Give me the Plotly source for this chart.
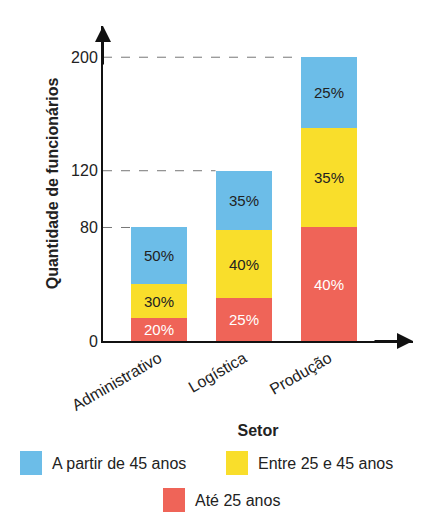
import plotly.graph_objects as go

setores = ["Administrativo", "Logística", "Produção"]
totais = [80, 120, 200]
ate25 = [20, 25, 40]
entre25_45 = [30, 40, 35]
partir45 = [50, 35, 25]

series = [
    ("Até 25 anos", ate25, "#ef6458", "white"),
    ("Entre 25 e 45 anos", entre25_45, "#f9de2b", "#222"),
    ("A partir de 45 anos", partir45, "#6cbde8", "#222"),
]

x = list(range(len(setores)))
W = 0.67
X0 = -0.659
fig = go.Figure()
for name, pcts, cor, tcor in series:
    vals = [t * p / 100 for t, p in zip(totais, pcts)]
    fig.add_trace(go.Bar(x=x, y=vals, width=W, marker=dict(color=cor, line_width=0),
                         text=[f"{p}%" for p in pcts], textposition="inside",
                         insidetextanchor="middle", textfont=dict(size=15, color=tcor),
                         name=name, showlegend=False))

for i, t in enumerate(totais):
    fig.add_shape(type="line", xref="x", yref="y", x0=X0, x1=i - W / 2, y0=t, y1=t,
                  line=dict(color="#777", width=1, dash="dash"))

# axis arrows
fig.add_annotation(xref="paper", yref="paper", x=0, y=1.0, ax=0, ay=40,
                   showarrow=True, arrowhead=2, arrowsize=1.6, arrowwidth=2, arrowcolor="#111", text="")
fig.add_annotation(xref="paper", yref="paper", x=1.0, y=0, ax=-40, ay=0,
                   showarrow=True, arrowhead=2, arrowsize=1.6, arrowwidth=2, arrowcolor="#111", text="")

# legend
def px(v): return (v - 95) / 310
def py(v): return (333 - v) / 315
leg = [("A partir de 45 anos", "#6cbde8", 12, 455), ("Entre 25 e 45 anos", "#f9de2b", 218, 455),
       ("Até 25 anos", "#ef6458", 155, 492)]
for txt, cor, lx, ly in leg:
    fig.add_shape(type="rect", xref="paper", yref="paper", x0=px(lx), x1=px(lx + 22),
                  y0=py(ly + 12), y1=py(ly - 12), fillcolor=cor, line_width=0)
    fig.add_annotation(xref="paper", yref="paper", x=px(lx + 30), y=py(ly), text=txt, showarrow=False,
                       xanchor="left", yanchor="middle", font=dict(size=16, color="#222"))

fig.update_layout(
    width=435, height=526, margin=dict(l=95, r=30, t=18, b=193, autoexpand=False),
    barmode="stack", bargap=0, plot_bgcolor="white", paper_bgcolor="white",
    font=dict(family="Liberation Sans, Arial", size=16, color="#222"),
    xaxis=dict(tickvals=x, ticktext=setores, tickangle=-30, range=[X0, X0 + 310 / 85],
               automargin=False, showline=True, linecolor="#111", linewidth=2, showgrid=False, ticks="",
               title=dict(text="<b>Setor</b>", standoff=12, font=dict(size=16))),
    yaxis=dict(tickvals=[0, 80, 120, 200], range=[0, 222], showline=True, automargin=False,
               linecolor="#111", linewidth=2, showgrid=False, zeroline=False, ticks="",
               title=dict(text="<b>Quantidade de funcionários</b>", standoff=8, font=dict(size=16))),
)
fig.write_html("out.html")
